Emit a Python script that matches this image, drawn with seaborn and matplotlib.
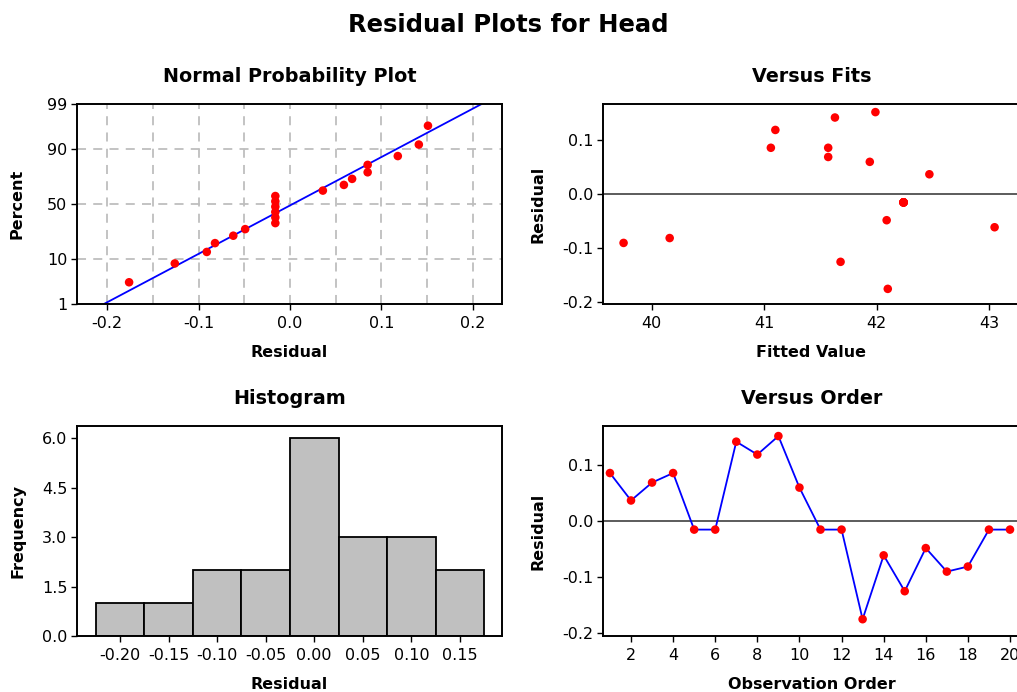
import numpy as np
import pandas as pd
import matplotlib
matplotlib.use("Agg")
import matplotlib.pyplot as plt
import seaborn as sns
from statistics import NormalDist

# ---------------- data ----------------
observation = list(range(1, 21))
residuals = [0.085, 0.036, 0.068, 0.085, -0.016, -0.016, 0.141, 0.118, 0.151, 0.059,
             -0.016, -0.016, -0.176, -0.062, -0.126, -0.049, -0.091, -0.082, -0.016, -0.016]
fitted = [41.06, 42.47, 41.57, 41.57, 42.24, 42.24, 41.63, 41.10, 41.99, 41.94,
          42.24, 42.24, 42.10, 43.05, 41.68, 42.09, 39.75, 40.16, 42.24, 42.24]
prob_ticks = [1, 10, 50, 90, 99]
hist_ticks = [-0.20, -0.15, -0.10, -0.05, 0.00, 0.05, 0.10, 0.15]
freq_ticks = [0.0, 1.5, 3.0, 4.5, 6.0]
order_ticks = [2, 4, 6, 8, 10, 12, 14, 16, 18, 20]

df = pd.DataFrame({"obs": observation, "resid": residuals, "fit": fitted})

sns.set_style("white")
plt.rcParams["font.family"] = ["DejaVu Sans"]
plt.rcParams["text.color"] = "black"
plt.rcParams["axes.labelcolor"] = "black"
plt.rcParams["xtick.color"] = "black"
plt.rcParams["ytick.color"] = "black"
plt.rcParams["axes.titlecolor"] = "black"

W, H = 1017, 692
fig = plt.figure(figsize=(W / 100, H / 100), dpi=100)

def add_ax(l, t, r, b):
    return fig.add_axes([l / W, 1 - b / H, (r - l) / W, (b - t) / H])

RED = "#FF0000"
BLUE = "#0000FF"
TICK_FS = 11.5
LAB_FS = 11.5
TITLE_FS = 13.8

def style(ax, hide_right=False):
    for s in ax.spines.values():
        s.set_color("black")
        s.set_linewidth(1.4)
    if hide_right:
        ax.spines["right"].set_visible(False)
    ax.tick_params(axis="both", which="both", direction="out", length=4, width=1,
                   color="black", labelcolor="black", labelsize=TICK_FS, pad=3,
                   left=True, bottom=True)
    ax.tick_params(axis="x", pad=5)

nd = NormalDist()

# ---------------- Normal probability plot ----------------
ax1 = add_ax(77, 104, 502, 304)
n = len(residuals)
srt = np.sort(np.array(residuals))
pct = [(i - 0.3) / (n + 0.4) for i in range(1, n + 1)]
zq = [nd.inv_cdf(p) for p in pct]
mu = float(np.mean(residuals))
sd = float(np.std(residuals, ddof=1))
zlo, zhi = nd.inv_cdf(0.01), nd.inv_cdf(0.99)
line_df = pd.DataFrame({"x": [mu + zlo * sd, mu + zhi * sd], "z": [zlo, zhi]})
for xv in [-0.2, -0.15, -0.1, -0.05, 0.0, 0.05, 0.1, 0.15, 0.2]:
    ax1.axvline(xv, color="#BEBEBE", ls=(0, (5, 4)), lw=1.3, zorder=0)
for pv in [10, 50, 90]:
    ax1.axhline(nd.inv_cdf(pv / 100), color="#BEBEBE", ls=(0, (5, 4)), lw=1.3, zorder=0)
sns.lineplot(data=line_df, x="x", y="z", color=BLUE, lw=1.3, ax=ax1, zorder=2)
sns.scatterplot(x=srt, y=zq, color=RED, s=38, edgecolor="none", ax=ax1, zorder=3)
ax1.set_xlim(-0.233, 0.232)
ax1.set_ylim(zlo, zhi)
ax1.set_yticks([nd.inv_cdf(p / 100) for p in prob_ticks])
ax1.set_yticklabels([str(p) for p in prob_ticks])
ax1.set_xticks([-0.2, -0.1, 0.0, 0.1, 0.2])
ax1.set_xticklabels(["-0.2", "-0.1", "0.0", "0.1", "0.2"])
style(ax1)
ax1.set_xlabel("Residual", fontsize=LAB_FS, fontweight="bold", labelpad=10)
ax1.set_ylabel("Percent", fontsize=LAB_FS, fontweight="bold", labelpad=16)
ax1.set_title("Normal Probability Plot", fontsize=TITLE_FS, fontweight="bold", pad=16)

# ---------------- Versus fits ----------------
ax2 = add_ax(603, 104, 1020, 304)
ax2.axhline(0, color="#404040", lw=1.2, zorder=1)
sns.scatterplot(data=df, x="fit", y="resid", color=RED, s=38, edgecolor="none", ax=ax2, zorder=3)
ax2.set_xlim(39.567, 43.276)
ax2.set_ylim(-0.204, 0.166)
ax2.set_xticks([40, 41, 42, 43])
ax2.set_yticks([-0.2, -0.1, 0.0, 0.1])
ax2.set_yticklabels(["-0.2", "-0.1", "0.0", "0.1"])
style(ax2, hide_right=True)
ax2.set_xlabel("Fitted Value", fontsize=LAB_FS, fontweight="bold", labelpad=10)
ax2.set_ylabel("Residual", fontsize=LAB_FS, fontweight="bold", labelpad=12)
ax2.set_title("Versus Fits", fontsize=TITLE_FS, fontweight="bold", pad=16)

# ---------------- Histogram ----------------
ax3 = add_ax(77, 426, 502, 636)
sns.histplot(data=df, x="resid", binwidth=0.05, binrange=(-0.225, 0.175),
             color="#C0C0C0", edgecolor="black", linewidth=1.3, alpha=1, ax=ax3)
ax3.set_xlim(-0.2442, 0.1933)
ax3.set_ylim(0, 6.374)
ax3.set_xticks(hist_ticks)
ax3.set_xticklabels([f"{v:.2f}" for v in hist_ticks])
ax3.set_yticks(freq_ticks)
ax3.set_yticklabels([f"{v:.1f}" for v in freq_ticks])
style(ax3)
ax3.set_xlabel("Residual", fontsize=LAB_FS, fontweight="bold", labelpad=10)
ax3.set_ylabel("Frequency", fontsize=LAB_FS, fontweight="bold", labelpad=12)
ax3.set_title("Histogram", fontsize=TITLE_FS, fontweight="bold", pad=16)

# ---------------- Versus order ----------------
ax4 = add_ax(603, 426, 1020, 636)
ax4.axhline(0, color="#404040", lw=1.2, zorder=1)
sns.lineplot(data=df, x="obs", y="resid", color=BLUE, lw=1.3, ax=ax4, zorder=2)
sns.scatterplot(data=df, x="obs", y="resid", color=RED, s=38, edgecolor="none", ax=ax4, zorder=3)
ax4.set_xlim(0.67, 20.475)
ax4.set_ylim(-0.206, 0.169)
ax4.set_xticks(order_ticks)
ax4.set_yticks([-0.2, -0.1, 0.0, 0.1])
ax4.set_yticklabels(["-0.2", "-0.1", "0.0", "0.1"])
style(ax4, hide_right=True)
ax4.set_xlabel("Observation Order", fontsize=LAB_FS, fontweight="bold", labelpad=10)
ax4.set_ylabel("Residual", fontsize=LAB_FS, fontweight="bold", labelpad=12)
ax4.set_title("Versus Order", fontsize=TITLE_FS, fontweight="bold", pad=16)

fig.text(0.5, 1 - 25 / H, "Residual Plots for Head", ha="center", va="center",
         fontsize=17.5, fontweight="bold")

fig.savefig("out.png", dpi=100)
